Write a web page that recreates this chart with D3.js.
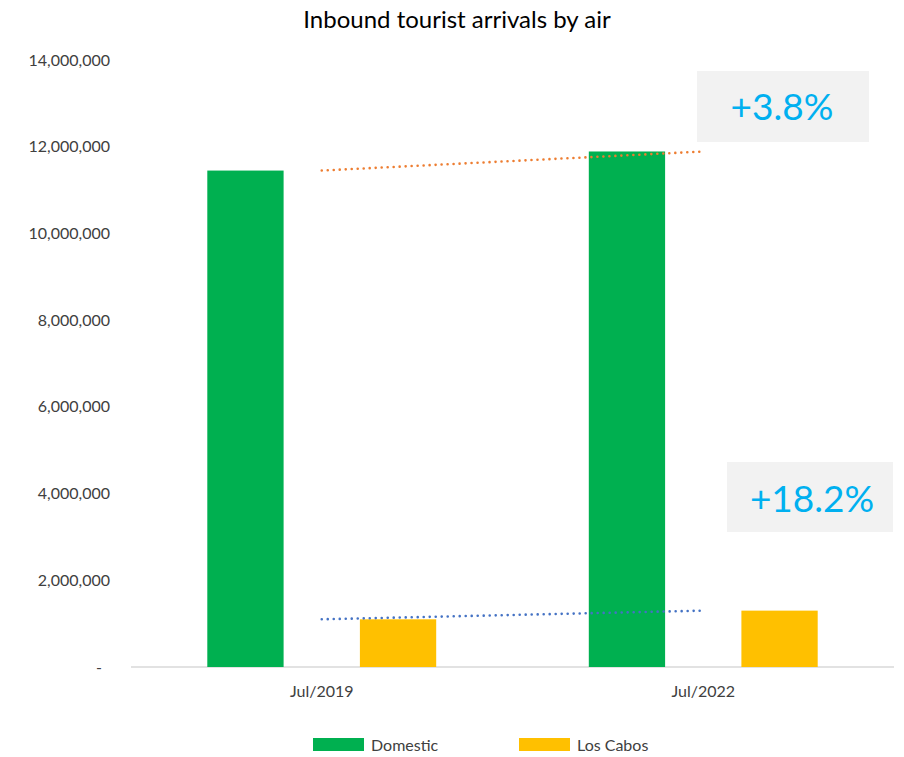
<!DOCTYPE html>
<html>
<head>
<meta charset="utf-8">
<style>
  body { margin: 0; background: #fff; }
  svg text { font-family: Lato, "Open Sans", sans-serif; fill: #404040; }
</style>
</head>
<body>
<div id="container"></div>
<script src="https://cdn.jsdelivr.net/npm/d3@7"></script>
<script>
// chart data
const categories = ["Jul/2019", "Jul/2022"];
const seriesNames = ["Domestic", "Los Cabos"];
const domestic = [11450000, 11890000];
const losCabos = [1100000, 1300000];
const yTicks = [0, 2000000, 4000000, 6000000, 8000000, 10000000, 12000000, 14000000];

const colors = { "Domestic": "#00b050", "Los Cabos": "#ffc000" };
const trendColors = { "Domestic": "#ed7d31", "Los Cabos": "#4472c4" };

const W = 904, H = 757;
const margin = { left: 131, right: 10, top: 60, bottom: 90 };

const svg = d3.select("#container")
    .append("svg")
    .attr("width", W)
    .attr("height", H);

const series = seriesNames.map((name, i) => ({
    name: name,
    values: i == 0 ? domestic : losCabos
}));

const x0 = d3.scaleBand()
    .domain(categories)
    .range([margin.left, W - margin.right]);

// gap width 200%, overlap -100% => five equal units per category
const unit = x0.bandwidth() / 5;
const x1 = d3.scaleBand()
    .domain(seriesNames)
    .range([unit, 4 * unit])
    .paddingInner(0.5);

const y = d3.scaleLinear()
    .domain([0, 14000000])
    .range([H - margin.bottom, margin.top]);

// title
svg.append("text")
    .attr("x", 457)
    .attr("y", 28)
    .attr("text-anchor", "middle")
    .style("font-size", "24px")
    .style("fill", "#000")
    .text("Inbound tourist arrivals by air");

// y axis labels
const fmt = d3.format(",");
svg.append("g")
    .selectAll("text")
    .data(yTicks)
    .join("text")
    .attr("x", d => d == 0 ? 102 : 110)
    .attr("y", d => y(d))
    .attr("dy", "0.35em")
    .attr("text-anchor", "end")
    .style("font-size", "16px")
    .text(d => d == 0 ? "-" : fmt(d));

// baseline
svg.append("line")
    .attr("x1", margin.left)
    .attr("x2", W - margin.right)
    .attr("y1", y(0))
    .attr("y2", y(0))
    .attr("stroke", "#d9d9d9")
    .attr("stroke-width", 1.5);

// bars
const groups = svg.append("g")
    .selectAll("g")
    .data(categories)
    .join("g")
    .attr("transform", d => `translate(${x0(d)},0)`);

groups.selectAll("rect")
    .data((c, ci) => series.map(s => ({ name: s.name, value: s.values[ci] })))
    .join("rect")
    .attr("x", d => x1(d.name))
    .attr("width", x1.bandwidth())
    .attr("y", d => y(d.value))
    .attr("height", d => y(0) - y(d.value))
    .attr("fill", d => colors[d.name]);

// category labels
svg.append("g")
    .selectAll("text")
    .data(categories)
    .join("text")
    .attr("x", d => x0(d) + x0.bandwidth() / 2)
    .attr("y", 697)
    .attr("text-anchor", "middle")
    .style("font-size", "16px")
    .text(d => d);

// linear trendlines (two points -> line through them)
const line = d3.line()
    .x((d, i) => x0(categories[i]) + x0.bandwidth() / 2)
    .y(d => y(d));

series.forEach(s => {
    svg.append("path")
        .attr("d", line(s.values))
        .attr("fill", "none")
        .attr("stroke", trendColors[s.name])
        .attr("stroke-width", 2.6)
        .attr("stroke-linecap", "round")
        .attr("stroke-dasharray", "0 6");
});

// growth callouts
const callouts = [
    { s: series[0], box: [697, 71, 172, 71], cx: 782, base: 120 },
    { s: series[1], box: [727, 462, 166, 70], cx: 812, base: 512 }
];
callouts.forEach(c => {
    const g = (c.s.values[1] / c.s.values[0] - 1) * 100;
    svg.append("rect")
        .attr("x", c.box[0])
        .attr("y", c.box[1])
        .attr("width", c.box[2])
        .attr("height", c.box[3])
        .attr("fill", "#f2f2f2");
    svg.append("text")
        .attr("x", c.cx)
        .attr("y", c.base)
        .attr("text-anchor", "middle")
        .style("font-size", "37px")
        .style("fill", "#00b0f0")
        .text("+" + g.toFixed(1) + "%");
});

// legend
const legend = svg.append("g")
    .selectAll("g")
    .data(seriesNames)
    .join("g")
    .attr("transform", (d, i) => `translate(${313 + i * 206},738)`);

legend.append("rect")
    .attr("width", 51)
    .attr("height", 13)
    .attr("fill", d => colors[d]);

legend.append("text")
    .attr("x", 58)
    .attr("y", 7)
    .attr("dy", "0.35em")
    .style("font-size", "16px")
    .text(d => d);
</script>
</body>
</html>
